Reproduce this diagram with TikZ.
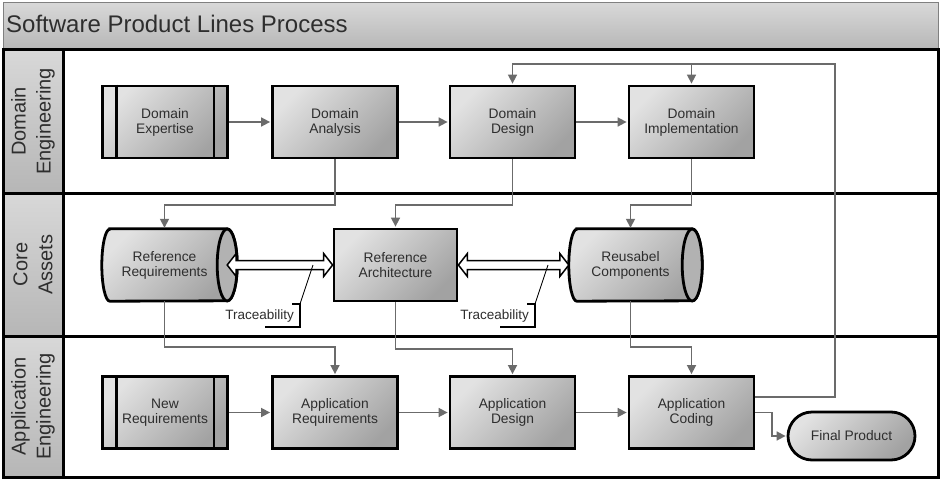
\documentclass[tikz,border=0pt]{standalone}
\usepackage{fontspec}
\setmainfont{Liberation Sans}
\usetikzlibrary{arrows.meta,calc}
\definecolor{boxlight}{HTML}{E2E2E2}
\definecolor{boxdark}{HTML}{A2A2A2}
\definecolor{facegray}{HTML}{B2B2B2}
\definecolor{arrowgray}{HTML}{6B6B6B}
\definecolor{txt}{HTML}{2E2E2E}
\definecolor{titlelight}{HTML}{D8D8D8}
\definecolor{titledark}{HTML}{B6B6B6}
\pgfdeclarelayer{lanes}
\pgfdeclarelayer{shapes}
\pgfsetlayers{lanes,shapes,main}
\tikzset{
  boxfont/.style={font=\fontsize{13.8}{15}\selectfont, text=txt},
  proc/.style={rectangle, draw=black, line width=2.8pt, top color=boxlight, bottom color=boxdark, shading angle=45,
    minimum width=125pt, minimum height=72pt, align=center, inner sep=1pt, boxfont},
  cylnode/.style={rectangle, minimum height=72pt, align=center, inner sep=1pt, boxfont},
  cylbody/.style={draw=black, line width=2.8pt, top color=boxlight, bottom color=boxdark, shading angle=45},
  cylface/.style={draw=black, line width=2.8pt, fill=facegray},
  endbox/.style={rectangle, rounded corners=24pt, draw=black, line width=2.8pt, top color=boxlight, bottom color=boxdark, shading angle=45,
    minimum width=127pt, minimum height=48pt, inner sep=1pt, boxfont},
  flow/.style={draw=arrowgray, line width=1.6pt, -{Triangle[length=9pt,width=9pt]}, shorten >=1pt},
  dblarrow/.style={draw=black, line width=1.5pt, fill=white, line join=miter},
  bracket/.style={draw=black, line width=2.8pt, line join=miter},
  notetext/.style={font=\fontsize{13.5}{15}\selectfont, text=txt, inner sep=0pt},
  noteline/.style={draw=black, line width=0.9pt},
  lanelabel/.style={rotate=90, align=center, font=\fontsize{20}{25}\selectfont, text=txt, inner sep=0pt},
  frame/.style={draw=black, line width=3pt},
}
\begin{document}
\begin{tikzpicture}[x=1pt, y=-1pt]
\begin{pgfonlayer}{lanes}
  \fill[white] (0,0) rectangle (944,484);
  \useasboundingbox (0,0) rectangle (944,484);
  % title bar
  \shade[top color=titlelight, bottom color=titledark, draw=gray, line width=1pt] (3,3) rectangle (938,50);
  % lanes
  \fill[white] (63,50) rectangle (938,477);
  \shade[top color=titlelight, bottom color=titledark] (3,50) rectangle (63,193);
  \shade[top color=titlelight, bottom color=titledark] (3,193) rectangle (63,336);
  \shade[top color=titlelight, bottom color=titledark] (3,336) rectangle (63,477);
  \draw[frame] (3,50) rectangle (938,477);
  \draw[frame] (63,50) -- (63,477);
  \draw[frame] (3,193) -- (938,193);
  \draw[frame] (3,336) -- (938,336);
\end{pgfonlayer}

\node[anchor=base west, font=\fontsize{24}{28}\selectfont, text=txt, inner sep=0pt] (title) at (6,33) {Software Product Lines Process};

\node[lanelabel] (lane1) at (33,121.5) {Domain\\Engineering};
\node[lanelabel] (lane2) at (33,264.5) {Core\\Assets};
\node[lanelabel] (lane3) at (33,406.5) {Application\\Engineering};

% Domain engineering
\node[proc] (de) at (165,122) {Domain\\Expertise};
\draw[line width=2.8pt] ([xshift=15pt]de.north west) -- ([xshift=15pt]de.south west);
\draw[line width=2.8pt] ([xshift=-15pt]de.north east) -- ([xshift=-15pt]de.south east);
\node[proc] (da) at (335,122) {Domain\\Analysis};
\node[proc] (dd) at (512.5,122) {Domain\\Design};
\node[proc] (di) at (691.5,122) {Domain\\Implementation};

% Core assets
\node[cylnode, minimum width=125pt] (rr) at (164.5,265) {Reference\\Requirements};
\node[proc, minimum width=123pt] (ra) at (395.5,265) {Reference\\Architecture};
\node[cylnode, minimum width=123pt] (rc) at (630.5,265) {Reusabel\\Components};
\begin{pgfonlayer}{shapes}
  \foreach \c in {rr,rc}{
    \path[cylbody] ([xshift=8pt]\c.north west) -- (\c.north east)
      arc[start angle=90, end angle=-90, x radius=10pt, y radius=36pt]
      -- ([xshift=8pt]\c.south west)
      arc[start angle=270, end angle=90, x radius=8pt, y radius=36pt] -- cycle;
    \draw[cylface] (\c.east) ellipse [x radius=10pt, y radius=36pt];
  }
\end{pgfonlayer}

% Application engineering
\node[proc] (nr) at (165,412.5) {New\\Requirements};
\draw[line width=2.8pt] ([xshift=15pt]nr.north west) -- ([xshift=15pt]nr.south west);
\draw[line width=2.8pt] ([xshift=-15pt]nr.north east) -- ([xshift=-15pt]nr.south east);
\node[proc] (ar) at (335,412.5) {Application\\Requirements};
\node[proc] (ad) at (512.5,412.5) {Application\\Design};
\node[proc] (ac) at (691.5,412.5) {Application\\Coding};
\node[endbox] (fp) at (851.5,436) {Final Product};

% helper coordinates
\coordinate (busA) at (0,205);
\coordinate (busB) at (0,347);
\coordinate (busC) at (0,349);
\coordinate (fbR) at (835,64);
\coordinate (fpk) at (772,0);

% flows
\draw[flow] (de) -- (da);
\draw[flow] (da) -- (dd);
\draw[flow] (dd) -- (di);
\draw[flow] (nr) -- (ar);
\draw[flow] (ar) -- (ad);
\draw[flow] (ad) -- (ac);

\draw[flow] (da.south) -- (da.south |- busA) -| (rr.north);
\draw[flow] (dd.south) -- (dd.south |- busA) -| (ra.north);
\draw[flow] (di.south) -- (di.south |- busA) -| (rc.north);
\draw[flow] (rr.south) -- (rr.south |- busB) -| (ar.north);
\draw[flow] (ra.south) -- (ra.south |- busC) -| (ad.north);
\draw[flow] (rc.south) -- (rc.south |- busB) -| (ac.north);

\draw[flow] ([yshift=15.5pt]ac.east) -| (fbR) -| (dd.north);
\draw[flow] (di.north |- fbR) -- (di.north);
\draw[flow] (ac.east) -- (ac.east -| fpk) |- (fp.west);

% double arrows (traceability)
\draw[dblarrow] let \p1=(rr.east), \p2=(ra.west) in
  (\x1,\y1) -- (\x1+9pt,\y1+11.5pt) -- (\x1+9pt,\y1+4.5pt) -- (\x2-9pt,\y1+4.5pt) -- (\x2-9pt,\y1+11.5pt)
  -- (\x2,\y1) -- (\x2-9pt,\y1-11.5pt) -- (\x2-9pt,\y1-4.5pt) -- (\x1+9pt,\y1-4.5pt) -- (\x1+9pt,\y1-11.5pt) -- cycle;
\draw[dblarrow] let \p1=(ra.east), \p2=(rc.west) in
  (\x1,\y1) -- (\x1+9pt,\y1+11.5pt) -- (\x1+9pt,\y1+4.5pt) -- (\x2-9pt,\y1+4.5pt) -- (\x2-9pt,\y1+11.5pt)
  -- (\x2,\y1) -- (\x2-9pt,\y1-11.5pt) -- (\x2-9pt,\y1-4.5pt) -- (\x1+9pt,\y1-4.5pt) -- (\x1+9pt,\y1-11.5pt) -- cycle;

% traceability annotations
\node[notetext, anchor=east] (t1) at (294,316) {Traceability};
\node[notetext, anchor=east] (t2) at (529,316) {Traceability};
\coordinate (p1) at (313,265);
\coordinate (p2) at (548,265);
\foreach \t/\p in {t1/p1, t2/p2}{
  \draw[bracket] ([shift={(-2,-12)}]\t.east) -- ([shift={(6,-12)}]\t.east) -- ([shift={(6,11)}]\t.east) -- ([shift={(-29,11)}]\t.east);
  \draw[noteline] ([shift={(6,-12)}]\t.east) -- (\p);
}
\end{tikzpicture}
\end{document}
